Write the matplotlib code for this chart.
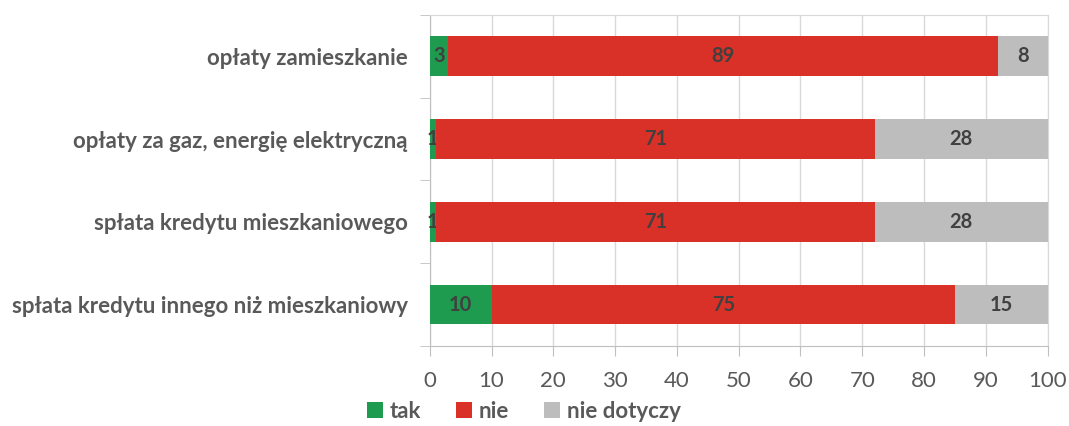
import matplotlib.pyplot as plt
import numpy as np

categories = ['opłaty zamieszkanie', 'opłaty za gaz, energię elektryczną',
              'spłata kredytu mieszkaniowego', 'spłata kredytu innego niż mieszkaniowy']
tak = [3, 1, 1, 10]
nie = [89, 71, 71, 75]
nie_dotyczy = [8, 28, 28, 15]
series_names = ['tak', 'nie', 'nie dotyczy']
colors = ['#1E9B4F', '#D93027', '#BDBDBD']

plt.rcParams['font.family'] = ['Lato', 'DejaVu Sans']

fig = plt.figure(figsize=(10.69, 4.26), dpi=100)
ax = fig.add_axes([0.402, 0.188, 0.578, 0.777])

y = np.arange(len(categories))
left = np.zeros(len(categories))
for vals, name, col in zip([tak, nie, nie_dotyczy], series_names, colors):
    bars = ax.barh(y, vals, left=left, height=0.48, color=col, label=name, zorder=3)
    ax.bar_label(bars, labels=[str(v) for v in vals], label_type='center',
                 fontsize=14.5, fontweight='bold', color='#404040')
    left += np.array(vals)

ax.set_xlim(0, 100)
ax.set_ylim(len(categories) - 0.5, -0.5)
ax.set_xticks(np.arange(0, 101, 10))
ax.set_yticks(y)
ax.set_yticklabels(categories, fontsize=16, fontweight='bold', color='#595959')
ax.set_yticks(np.arange(-0.5, len(categories), 1), minor=True)
ax.tick_params(axis='y', which='major', length=0, pad=16)
ax.tick_params(axis='y', which='minor', length=7, color='#BFBFBF')
ax.tick_params(axis='x', length=7, color='#BFBFBF', labelsize=16, labelcolor='#595959', pad=11)
ax.grid(axis='x', color='#D9D9D9', linewidth=1, zorder=0)
for s in ['top', 'right']:
    ax.spines[s].set_color('#D9D9D9')
for s in ['left', 'bottom']:
    ax.spines[s].set_color('#BFBFBF')

fig.legend(loc='center', bbox_to_anchor=(0.49, 0.035), ncol=3, frameon=False,
           prop={'size': 16, 'weight': 'bold'}, labelcolor='#595959',
           handlelength=0.7, handleheight=0.7, handletextpad=0.3, columnspacing=1.6)

fig.savefig('out.png', dpi=100)
